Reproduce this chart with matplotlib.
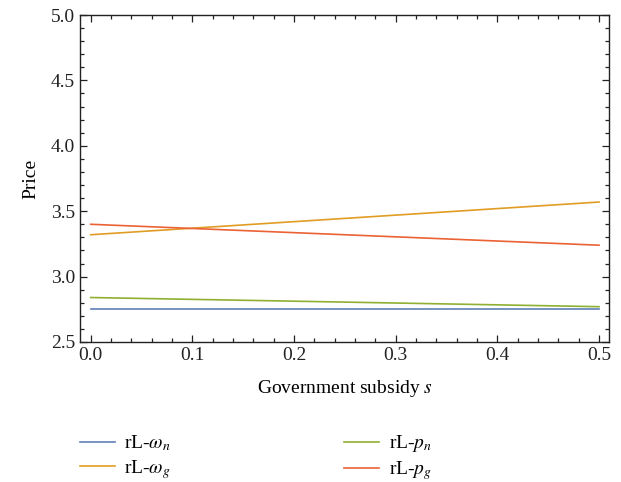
import matplotlib
matplotlib.use("Agg")
import matplotlib.pyplot as plt
from matplotlib.ticker import MultipleLocator

plt.rcParams['font.family'] = ['Liberation Serif', 'DejaVu Serif']
plt.rcParams['mathtext.fontset'] = 'stix'

s = [0.0, 0.1, 0.2, 0.3, 0.4, 0.5]
w_n = [2.75, 2.75, 2.75, 2.75, 2.75, 2.75]
w_g = [3.32, 3.37, 3.42, 3.47, 3.52, 3.57]
p_n = [2.84, 2.826, 2.812, 2.798, 2.784, 2.77]
p_g = [3.40, 3.368, 3.336, 3.304, 3.272, 3.24]

labels = [r'rL-$\omega_n$', r'rL-$\omega_g$', r'rL-$p_n$', r'rL-$p_g$']
colors = ['#5E81B5', '#E19C24', '#8FB032', '#EB6235']

fig = plt.figure(figsize=(6.21, 4.82), dpi=100)
ax = fig.add_axes([80/621, 1 - 342/482, 529/621, 327/482])

for y, lab, c in zip([w_n, w_g, p_n, p_g], labels, colors):
    ax.plot(s, y, color=c, lw=1.2, label=lab)

ax.set_xlim(-0.0105, 0.5098)
ax.set_ylim(2.5, 5.0)
ax.xaxis.set_major_locator(MultipleLocator(0.1))
ax.xaxis.set_minor_locator(MultipleLocator(0.02))
ax.yaxis.set_major_locator(MultipleLocator(0.5))
ax.yaxis.set_minor_locator(MultipleLocator(0.1))
ax.tick_params(which='both', direction='in', top=True, right=True,
               labelsize=14, colors='#222222', width=0.9)
ax.tick_params(which='major', length=5)
ax.tick_params(which='minor', length=3)
ax.xaxis.set_major_formatter(plt.FuncFormatter(lambda v, p: f'{v:.1f}'))
ax.yaxis.set_major_formatter(plt.FuncFormatter(lambda v, p: f'{v:.1f}'))
for sp in ax.spines.values():
    sp.set_linewidth(1.0)
    sp.set_color('#222222')

ax.set_xlabel(r'Government subsidy $s$', fontsize=14, labelpad=10)
ax.set_ylabel('Price', fontsize=14, labelpad=8)

fig.legend(loc='upper left', bbox_to_anchor=(62/621, 1 - 416/482), ncol=2,
           frameon=False, fontsize=14, handlelength=1.8, handletextpad=0.5,
           columnspacing=8.9, labelspacing=0.25)

fig.savefig('out.png', dpi=100)
